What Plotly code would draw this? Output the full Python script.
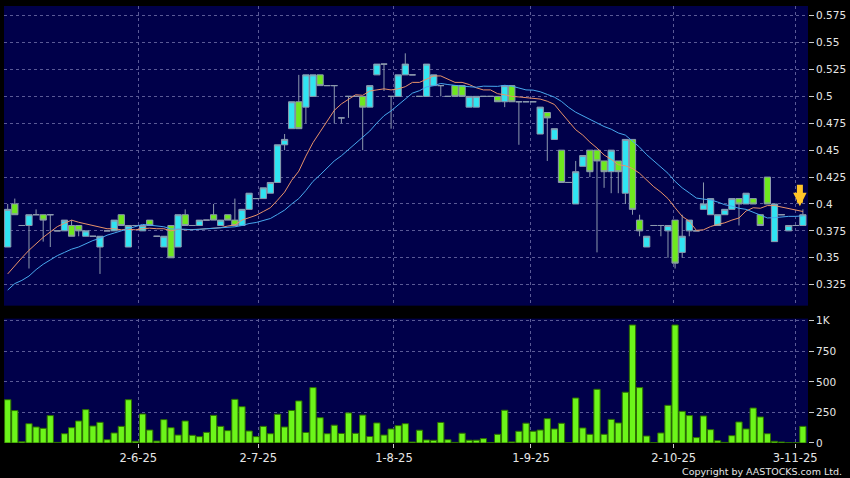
import plotly.graph_objects as go
from plotly.subplots import make_subplots

# ---------------- data ----------------
opens = [0.36, 0.40, 0.38, 0.38, 0.39, 0.39, 0.39, 0.375, 0.375, 0.38,
         0.38, 0.37, 0.37, 0.36, 0.375, 0.375, 0.39, 0.36, 0.38, 0.375,
         0.385, 0.37, 0.36, 0.38, 0.36, 0.39, 0.38, 0.38, 0.385, 0.39,
         0.38, 0.39, 0.385, 0.38, 0.395, 0.405, 0.405, 0.41, 0.42, 0.455,
         0.47, 0.495, 0.49, 0.50, 0.52, 0.51, 0.51, 0.48, 0.50, 0.50,
         0.50, 0.49, 0.52, 0.53, 0.50, 0.50, 0.52, 0.52, 0.50, 0.50,
         0.51, 0.51, 0.50, 0.51, 0.51, 0.49, 0.49, 0.50, 0.50, 0.50,
         0.495, 0.51, 0.495, 0.495, 0.495, 0.465, 0.485, 0.46, 0.45, 0.42,
         0.40, 0.435, 0.45, 0.45, 0.44, 0.43, 0.44, 0.41, 0.46, 0.385,
         0.36, 0.38, 0.38, 0.375, 0.385, 0.355, 0.375, 0.375, 0.395, 0.39,
         0.38, 0.39, 0.395, 0.405, 0.40, 0.405, 0.39, 0.425, 0.365, 0.39,
         0.375, 0.38, 0.38]
highs = [0.40, 0.405, 0.38, 0.39, 0.395, 0.39, 0.39, 0.375, 0.385, 0.385,
         0.38, 0.375, 0.37, 0.37, 0.375, 0.385, 0.39, 0.38, 0.38, 0.38,
         0.385, 0.37, 0.37, 0.38, 0.39, 0.395, 0.38, 0.385, 0.385, 0.40,
         0.385, 0.39, 0.405, 0.395, 0.41, 0.405, 0.415, 0.42, 0.455, 0.465,
         0.495, 0.52, 0.52, 0.52, 0.52, 0.51, 0.51, 0.48, 0.50, 0.50,
         0.50, 0.51, 0.53, 0.53, 0.50, 0.52, 0.54, 0.52, 0.50, 0.53,
         0.52, 0.51, 0.50, 0.51, 0.51, 0.50, 0.50, 0.50, 0.50, 0.50,
         0.51, 0.51, 0.495, 0.495, 0.495, 0.49, 0.485, 0.47, 0.45, 0.42,
         0.44, 0.445, 0.45, 0.45, 0.44, 0.45, 0.44, 0.46, 0.46, 0.39,
         0.37, 0.38, 0.38, 0.38, 0.385, 0.39, 0.385, 0.375, 0.42, 0.405,
         0.39, 0.395, 0.405, 0.405, 0.41, 0.405, 0.39, 0.425, 0.40, 0.39,
         0.38, 0.38, 0.395]
lows = [0.36, 0.39, 0.38, 0.34, 0.39, 0.365, 0.36, 0.375, 0.375, 0.37,
        0.37, 0.37, 0.37, 0.335, 0.375, 0.375, 0.38, 0.36, 0.38, 0.375,
        0.38, 0.37, 0.36, 0.35, 0.36, 0.38, 0.38, 0.38, 0.385, 0.385,
        0.38, 0.385, 0.38, 0.38, 0.395, 0.405, 0.405, 0.41, 0.42, 0.45,
        0.47, 0.47, 0.475, 0.50, 0.51, 0.51, 0.475, 0.475, 0.48, 0.50,
        0.45, 0.49, 0.52, 0.505, 0.47, 0.50, 0.52, 0.52, 0.50, 0.50,
        0.51, 0.50, 0.50, 0.50, 0.50, 0.49, 0.49, 0.50, 0.50, 0.495,
        0.49, 0.495, 0.455, 0.495, 0.495, 0.465, 0.44, 0.46, 0.42, 0.42,
        0.40, 0.435, 0.425, 0.355, 0.415, 0.41, 0.41, 0.40, 0.39, 0.37,
        0.36, 0.38, 0.37, 0.35, 0.34, 0.35, 0.37, 0.375, 0.395, 0.39,
        0.38, 0.39, 0.395, 0.38, 0.40, 0.40, 0.38, 0.40, 0.365, 0.39,
        0.375, 0.38, 0.38]
closes = [0.395, 0.39, 0.38, 0.39, 0.39, 0.385, 0.39, 0.375, 0.385, 0.37,
          0.375, 0.375, 0.37, 0.37, 0.375, 0.385, 0.38, 0.38, 0.38, 0.38,
          0.38, 0.37, 0.37, 0.35, 0.39, 0.38, 0.38, 0.385, 0.385, 0.385,
          0.385, 0.385, 0.38, 0.395, 0.41, 0.405, 0.415, 0.42, 0.455, 0.46,
          0.495, 0.47, 0.52, 0.52, 0.51, 0.51, 0.51, 0.48, 0.50, 0.50,
          0.49, 0.51, 0.53, 0.53, 0.50, 0.52, 0.53, 0.52, 0.50, 0.53,
          0.52, 0.51, 0.50, 0.50, 0.50, 0.50, 0.50, 0.50, 0.50, 0.495,
          0.51, 0.495, 0.495, 0.495, 0.495, 0.49, 0.48, 0.47, 0.42, 0.42,
          0.43, 0.445, 0.43, 0.44, 0.43, 0.45, 0.43, 0.46, 0.395, 0.375,
          0.37, 0.38, 0.38, 0.38, 0.345, 0.37, 0.385, 0.375, 0.40, 0.405,
          0.39, 0.395, 0.405, 0.40, 0.41, 0.40, 0.38, 0.40, 0.40, 0.39,
          0.38, 0.38, 0.39]
volumes = [354, 265, 10, 158, 131, 120, 224, 5, 76, 125,
           180, 273, 139, 169, 27, 82, 136, 354, 14, 237,
           106, 16, 191, 125, 65, 180, 63, 52, 87, 226,
           136, 101, 357, 297, 98, 52, 136, 76, 235, 131,
           266, 344, 86, 453, 207, 76, 146, 78, 246, 79,
           228, 53, 164, 65, 115, 142, 158, 8, 105, 25,
           22, 168, 27, 5, 80, 23, 23, 36, 3, 71,
           268, 9, 96, 162, 96, 106, 199, 115, 161, 3,
           368, 123, 71, 439, 71, 193, 164, 415, 965, 453,
           57, 3, 82, 308, 965, 259, 224, 44, 221, 109,
           19, 5, 60, 172, 115, 286, 213, 76, 14, 8,
           2, 2, 136]
ma10 = [0.335, 0.343, 0.350, 0.357, 0.363, 0.369, 0.374, 0.379, 0.382, 0.385,
        0.383, 0.3815, 0.3805, 0.3785, 0.377, 0.377, 0.376, 0.3765, 0.376, 0.377,
        0.3775, 0.377, 0.377, 0.375, 0.3765, 0.376, 0.376, 0.3765, 0.377, 0.3775,
        0.378, 0.3795, 0.3805, 0.385, 0.387, 0.3895, 0.393, 0.3965, 0.4035, 0.411,
        0.422, 0.4305, 0.4445, 0.457, 0.467, 0.4775, 0.487, 0.493, 0.4975, 0.5015,
        0.501, 0.505, 0.506, 0.507, 0.506, 0.507, 0.509, 0.513, 0.513, 0.516,
        0.519, 0.519, 0.516, 0.513, 0.513, 0.511, 0.508, 0.506, 0.506, 0.5025,
        0.5015, 0.500, 0.4995, 0.499, 0.4985, 0.4975, 0.4955, 0.4925, 0.4845, 0.477,
        0.469, 0.464, 0.4575, 0.452, 0.4455, 0.4415, 0.4365, 0.4355, 0.433, 0.4285,
        0.4225, 0.416, 0.411, 0.405, 0.3965, 0.3885, 0.384, 0.3755, 0.376, 0.379,
        0.381, 0.3825, 0.385, 0.387, 0.3935, 0.3965, 0.396, 0.3985, 0.3985, 0.397,
        0.396, 0.3945, 0.393]
ma20 = [0.320, 0.326, 0.329, 0.333, 0.339, 0.344, 0.348, 0.352, 0.355, 0.358,
        0.360, 0.363, 0.366, 0.368, 0.371, 0.373, 0.375, 0.377, 0.379, 0.381,
        0.3803, 0.3793, 0.3788, 0.3768, 0.3768, 0.3765, 0.376, 0.3765, 0.3765, 0.3773,
        0.3778, 0.3783, 0.3788, 0.380, 0.3818, 0.3828, 0.3845, 0.3865, 0.3903, 0.3943,
        0.400, 0.405, 0.4125, 0.421, 0.427, 0.4335, 0.440, 0.4448, 0.4505, 0.4563,
        0.4615, 0.4678, 0.4753, 0.482, 0.4865, 0.4923, 0.498, 0.503, 0.5053, 0.5088,
        0.510, 0.512, 0.511, 0.510, 0.5095, 0.509, 0.5085, 0.5095, 0.5095, 0.5093,
        0.5103, 0.5095, 0.5078, 0.506, 0.5058, 0.5043, 0.5018, 0.4993, 0.4953, 0.4898,
        0.4853, 0.482, 0.4785, 0.4755, 0.472, 0.4695, 0.466, 0.464, 0.4588, 0.4528,
        0.4458, 0.440, 0.4343, 0.4285, 0.421, 0.415, 0.4103, 0.4055, 0.4045, 0.4038,
        0.4018, 0.3993, 0.398, 0.396, 0.395, 0.3925, 0.390, 0.387, 0.3873, 0.388,
        0.3885, 0.3885, 0.389]

date_tick_pos = [18.4, 35.3, 54.4, 73.7, 93.8, 110.9]
date_tick_labels = ["2-6-25", "2-7-25", "1-8-25", "1-9-25", "2-10-25", "3-11-25"]
price_ticks = [0.325, 0.35, 0.375, 0.4, 0.425, 0.45, 0.475, 0.5, 0.525, 0.55, 0.575]
price_tick_labels = ["0.325", "0.35", "0.375", "0.4", "0.425", "0.45", "0.475",
                     "0.5", "0.525", "0.55", "0.575"]
vol_ticks = [0, 250, 500, 750, 1000]
vol_tick_labels = ["0", "250", "500", "750", "1K"]

# ---------------- styles ----------------
GRID = "#5a5a96"
TXT = "#e6e6e6"
CYAN = "#30e4f2"
GREEN = "#6ee81e"
OUTLINE = "#8d9aae"

idx = list(range(len(closes)))

fig = make_subplots(rows=2, cols=1, shared_xaxes=True, vertical_spacing=0.03)

fig.add_trace(go.Candlestick(
    x=idx, open=opens, high=highs, low=lows, close=closes,
    increasing=dict(fillcolor=CYAN, line=dict(color=OUTLINE, width=1)),
    decreasing=dict(fillcolor=GREEN, line=dict(color=OUTLINE, width=1)),
    whiskerwidth=0, hoverinfo="skip", showlegend=False), row=1, col=1)

fig.add_trace(go.Scatter(x=idx, y=ma10, mode="lines",
                         line=dict(color="#e8926a", width=1), hoverinfo="skip"),
              row=1, col=1)
fig.add_trace(go.Scatter(x=idx, y=ma20, mode="lines",
                         line=dict(color="#48a8ee", width=1), hoverinfo="skip"),
              row=1, col=1)

fig.add_trace(go.Bar(x=idx, y=volumes, width=0.88,
                     marker=dict(color="#6cf51a", line=dict(color="#2d6e00", width=1)),
                     hoverinfo="skip"), row=2, col=1)

fig.update_layout(
    width=850, height=478, autosize=False,
    margin=dict(l=4, r=42, t=6, b=34.5, autoexpand=False),
    paper_bgcolor="black", plot_bgcolor="#00004a",
    showlegend=False, boxgap=0.12, boxgroupgap=0, bargap=0,
    font=dict(family="DejaVu Sans", color=TXT, size=10.5),
)

common_x = dict(range=[-0.52, 112.72], tickvals=date_tick_pos, showgrid=True,
                gridcolor=GRID, gridwidth=1, griddash="3px,3px",
                zeroline=False, showline=False, automargin=False)
fig.update_xaxes(**common_x)
fig.update_xaxes(row=1, col=1, showticklabels=False, ticks="", rangeslider_visible=False)
fig.update_xaxes(row=2, col=1, ticktext=date_tick_labels, ticks="outside",
                 ticklen=4, tickcolor="#cccccc", tickfont=dict(size=11.5, color=TXT))

fig.update_yaxes(row=1, col=1, side="right", range=[0.3055, 0.584],
                 tickvals=price_ticks, ticktext=price_tick_labels,
                 ticks="outside", ticklen=5, tickcolor="#cccccc",
                 showgrid=True, gridcolor=GRID, gridwidth=1, griddash="3px,3px",
                 zeroline=False, showline=False, domain=[0.3143, 1.0], automargin=False)
fig.update_yaxes(row=2, col=1, side="right", range=[0, 1017],
                 tickvals=vol_ticks, ticktext=vol_tick_labels,
                 ticks="outside", ticklen=5, tickcolor="#cccccc",
                 showgrid=True, gridcolor=GRID, gridwidth=1, griddash="3px,3px",
                 zeroline=False, showline=False, domain=[0.0, 0.2846], automargin=False)

# yellow marker arrow above the latest candle
fig.add_annotation(x=idx[-1], y=highs[-1], xref="x", yref="y", xshift=-3,
                   showarrow=True, ax=0, ay=-26, standoff=3,
                   arrowhead=2, arrowsize=0.45, arrowwidth=6, arrowcolor="#ffc428",
                   text="")

fig.add_annotation(xref="paper", yref="paper", x=1.0448, y=-0.0645,
                   xanchor="right", yanchor="middle", showarrow=False,
                   text="Copyright by AASTOCKS.com Ltd.",
                   font=dict(size=9.5, color=TXT, family="DejaVu Sans"))

fig.write_html("out.html",
               config={"displayModeBar": False, "staticPlot": True},
               post_script="document.body.style.margin='0';"
                           "document.body.style.background='black';")
